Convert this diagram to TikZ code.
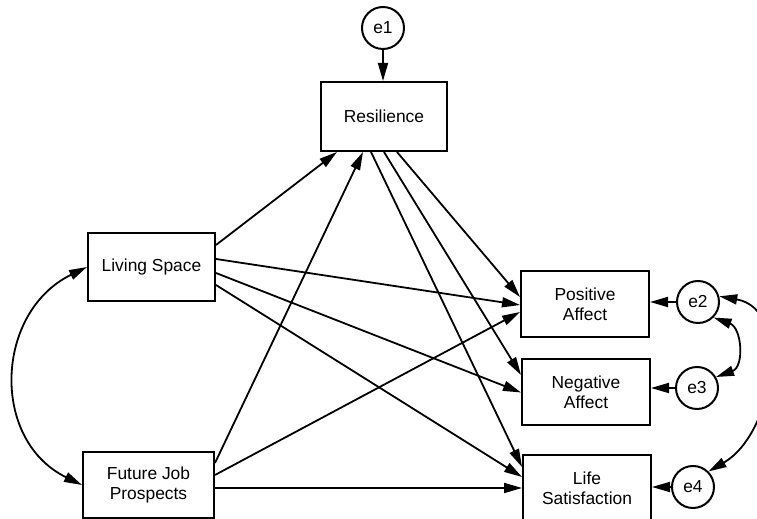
\documentclass[tikz,border=0pt]{standalone}
\usepackage{fontspec}
\setmainfont{Liberation Sans}
\usetikzlibrary{arrows.meta}

\tikzset{
    var/.style={draw, line width=1pt, minimum width=64pt, minimum height=33pt, inner sep=0pt, align=center, font=\fontsize{8.7}{10}\selectfont},
    err/.style={draw, circle, line width=1pt, minimum size=21pt, inner sep=0pt, font=\fontsize{8.7}{10}\selectfont},
    reg/.style={line width=0.9pt, -{Triangle[length=9pt,width=5pt]}},
    cov/.style={line width=0.9pt, {Triangle[length=9pt,width=5pt]}-{Triangle[length=9pt,width=5pt]}}
}

\begin{document}
\begin{tikzpicture}[x=0.5pt,y=0.5pt]
        \useasboundingbox (0,0) rectangle (757,519);
        \clip (0,0) rectangle (757,519);

        \node[var, minimum height=34.5pt, minimum width=63pt] (res) at (384,402.5) {Resilience};
        \node[var, minimum width=63.5pt, minimum height=34pt] (ls) at (151.5,252) {Living Space};
        \node[var, minimum width=65.5pt] (fj) at (148.5,34) {Future Job\\Prospects};
        \node[var] (pa) at (585,215) {Positive\\Affect};
        \node[var] (na) at (586,126.5) {Negative\\Affect};
        \node[var] (lifesat) at (587,31) {Life\\Satisfaction};

        \node[err] (e1) at (383,491) {e1};
        \node[err] (e2) at (698,217) {e2};
        \node[err] (e3) at (697,131) {e3};
        \node[err] (e4) at (693,32) {e4};

        \draw[reg] (e1) -- (e1 |- res.north);
        \draw[reg] (e2) -- (e2 -| pa.east);
        \draw[reg] (e3) -- (e3 -| na.east);
        \draw[reg] (e4) -- (e4 -| lifesat.east);

        \draw[reg] ([yshift=11pt]ls.east) -- ([xshift=-23.5pt]res.south);
        \draw[reg] ([yshift=4pt]ls.east) -- ([yshift=-0.5pt]pa.west);
        \draw[reg] ([yshift=-3pt]ls.east) -- (na.west);
        \draw[reg] ([yshift=-9pt]ls.east) -- ([yshift=5.5pt]lifesat.west);

        \draw[reg] ([yshift=11pt]fj.east) -- ([xshift=-10.5pt]res.south);
        \draw[reg] ([yshift=5pt]fj.east) -- ([yshift=-4pt]pa.west);
        \draw[reg] (fj.east |- lifesat.west) -- (lifesat.west);

        \draw[reg] ([xshift=6.5pt]res.south) -- ([yshift=3.5pt]pa.west);
        \draw[reg] (res.south) -- ([yshift=8.75pt]na.west);
        \draw[reg] ([xshift=-6.5pt]res.south) -- ([yshift=10.5pt]lifesat.west);

        \draw[cov] (ls.west) to[out=206, in=154, looseness=1.2] (fj.west);
        \draw[cov] (e2.-45) to[out=-20, in=20, looseness=1.3] (e3.30);
        \draw[cov] (e2.15) to[out=-10, in=30, looseness=1.1] (e4.45);
    \end{tikzpicture}
\end{document}
